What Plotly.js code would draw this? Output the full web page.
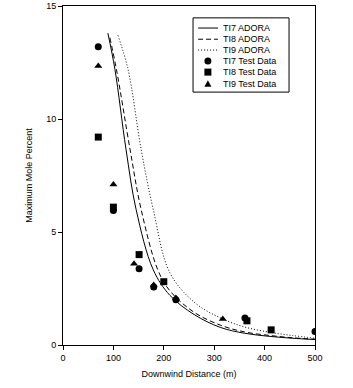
<!DOCTYPE html>
<html>
<head>
<meta charset="utf-8">
<script src="https://cdn.plot.ly/plotly-3.0.1.min.js"></script>
<style>html,body{margin:0;padding:0;background:#fff;}#chart{width:353px;height:388px;}</style>
</head>
<body>
<div id="chart"></div>
<script>
// ADORA model curves
var ti7X = [89, 103, 125, 145, 179, 212, 260, 312, 360, 411, 455, 500];
var ti7Y = [13.8, 12.2, 8.66, 6.0, 3.33, 2.2, 1.35, 0.78, 0.52, 0.38, 0.3, 0.24];
var ti8X = [93, 106, 133, 155, 188, 212, 260, 312, 360, 411, 455, 500];
var ti8Y = [13.6, 12.2, 8.66, 6.0, 3.33, 2.4, 1.45, 0.88, 0.58, 0.42, 0.32, 0.26];
var ti9X = [109, 129, 155, 179, 212, 260, 312, 360, 411, 455, 500];
var ti9Y = [13.7, 12.2, 8.66, 6.0, 3.2, 1.9, 1.2, 0.8, 0.56, 0.42, 0.3];
// Test data
var ti7DataX = [70, 100, 151, 180, 224, 361, 500];
var ti7DataY = [13.2, 5.95, 3.37, 2.57, 2.0, 1.2, 0.6];
var ti8DataX = [70, 100, 151, 200, 365, 413];
var ti8DataY = [9.2, 6.1, 4.0, 2.8, 1.07, 0.67];
var ti9DataX = [70, 100, 141, 180, 224, 317];
var ti9DataY = [12.35, 7.1, 3.6, 2.66, 2.08, 1.15];
var names = ['TI7 ADORA', 'TI8 ADORA', 'TI9 ADORA', 'TI7 Test Data', 'TI8 Test Data', 'TI9 Test Data'];

var dashes = ['solid', '5px,3px', '1px,2px'];
var symbols = ['circle', 'square', 'triangle-up'];

var traces = [
  {x: ti7X, y: ti7Y, name: names[0], mode: 'lines', line: {color: '#000', width: 1, dash: dashes[0], shape: 'spline'}},
  {x: ti8X, y: ti8Y, name: names[1], mode: 'lines', line: {color: '#000', width: 1, dash: dashes[1], shape: 'spline'}},
  {x: ti9X, y: ti9Y, name: names[2], mode: 'lines', line: {color: '#000', width: 1, dash: dashes[2], shape: 'spline'}},
  {x: ti7DataX, y: ti7DataY, name: names[3], mode: 'markers', marker: {color: '#000', size: 7, symbol: symbols[0]}},
  {x: ti8DataX, y: ti8DataY, name: names[4], mode: 'markers', marker: {color: '#000', size: 7, symbol: symbols[1]}},
  {x: ti9DataX, y: ti9DataY, name: names[5], mode: 'markers', marker: {color: '#000', size: 7, symbol: symbols[2]}}
];

var fnt = {family: 'Liberation Sans, Arial, sans-serif', size: 9, color: '#000'};

// Compact legend drawn with shapes/annotations (paper coordinates)
var legX0 = 0.516, legX1 = 0.897, legY0 = 0.746, legY1 = 0.965;
var rowY = [0.935, 0.902, 0.870, 0.838, 0.805, 0.771];
var sampleX0 = 0.536, sampleX1 = 0.615, markX = 0.575, textX = 0.625;
var shapes = [{type: 'rect', xref: 'paper', yref: 'paper', x0: legX0, x1: legX1, y0: legY0, y1: legY1,
  line: {color: '#000', width: 1}, fillcolor: '#fff', layer: 'above'}];
var annotations = [];
for (var i = 0; i < 6; i++) {
  annotations.push({xref: 'paper', yref: 'paper', x: textX, y: rowY[i], xanchor: 'left', yanchor: 'middle',
    text: names[i], showarrow: false, font: fnt});
  if (i < 3) {
    shapes.push({type: 'line', xref: 'paper', yref: 'paper', x0: sampleX0, x1: sampleX1, y0: rowY[i], y1: rowY[i],
      line: {color: '#000', width: 1, dash: dashes[i]}, layer: 'above'});
  }
}
// markers in legend (pixel sized)
shapes.push({type: 'circle', xref: 'paper', yref: 'paper', xsizemode: 'pixel', ysizemode: 'pixel',
  xanchor: markX, yanchor: rowY[3], x0: -3.5, x1: 3.5, y0: -3.5, y1: 3.5, fillcolor: '#000', line: {width: 0}, layer: 'above'});
shapes.push({type: 'rect', xref: 'paper', yref: 'paper', xsizemode: 'pixel', ysizemode: 'pixel',
  xanchor: markX, yanchor: rowY[4], x0: -3.5, x1: 3.5, y0: -3.5, y1: 3.5, fillcolor: '#000', line: {width: 0}, layer: 'above'});
shapes.push({type: 'path', xref: 'paper', yref: 'paper', xsizemode: 'pixel', ysizemode: 'pixel',
  xanchor: markX, yanchor: rowY[5], path: 'M -3.5 -3 L 3.5 -3 L 0 3.5 Z', fillcolor: '#000', line: {width: 0}, layer: 'above'});

var layout = {
  width: 353, height: 388,
  margin: {l: 63, r: 38, t: 6, b: 43},
  paper_bgcolor: '#fff', plot_bgcolor: '#fff',
  font: fnt,
  showlegend: false,
  shapes: shapes,
  annotations: annotations,
  xaxis: {
    range: [0, 500], tickvals: [0, 100, 200, 300, 400, 500], ticks: 'outside', ticklen: 4, tickcolor: '#000',
    showgrid: false, zeroline: false, showline: true, linecolor: '#000', linewidth: 1, mirror: true,
    tickfont: fnt, title: {text: 'Downwind Distance (m)', font: fnt, standoff: 8}
  },
  yaxis: {
    range: [0, 15], tickvals: [0, 5, 10, 15], ticks: 'outside', ticklen: 4, tickcolor: '#000',
    showgrid: false, zeroline: false, showline: true, linecolor: '#000', linewidth: 1, mirror: true,
    tickfont: fnt, title: {text: 'Maximum Mole Percent', font: fnt, standoff: 12}
  }
};
Plotly.newPlot('chart', traces, layout, {staticPlot: true, displayModeBar: false});
</script>
</body>
</html>
